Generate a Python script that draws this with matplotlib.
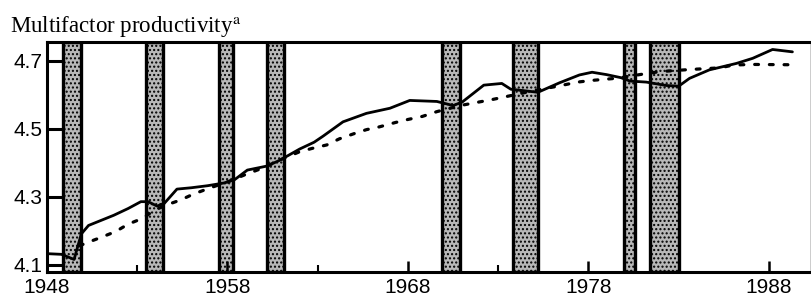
import matplotlib
matplotlib.use("Agg")
import matplotlib.pyplot as plt
import numpy as np

act_year = [1948.0, 1948.8, 1949.5, 1949.9, 1950.3, 1951.0, 1951.7, 1952.5, 1953.2, 1953.6,
            1954.1, 1954.5, 1955.2, 1956.0, 1956.9, 1957.8, 1958.4, 1959.1, 1960.2, 1960.9,
            1962.0, 1962.8, 1963.3, 1964.4, 1965.7, 1967.0, 1968.1, 1969.6, 1970.5, 1971.0,
            1972.2, 1973.2, 1973.7, 1975.2, 1976.4, 1977.5, 1978.2, 1979.0, 1979.8, 1980.3,
            1981.2, 1982.3, 1983.0, 1983.6, 1984.7, 1986.2, 1987.1, 1988.2, 1989.3]
act_val = [4.132, 4.130, 4.115, 4.190, 4.215, 4.230, 4.245, 4.265, 4.285, 4.285,
           4.272, 4.280, 4.322, 4.326, 4.332, 4.340, 4.350, 4.378, 4.390, 4.407,
           4.440, 4.460, 4.478, 4.520, 4.545, 4.560, 4.583, 4.580, 4.568, 4.578,
           4.628, 4.633, 4.616, 4.607, 4.635, 4.658, 4.666, 4.659, 4.650, 4.640,
           4.637, 4.627, 4.625, 4.648, 4.673, 4.692, 4.707, 4.733, 4.726]

# trend line (dotted)
trend_year = [1949.8, 1950.2, 1951.0, 1951.8, 1952.5, 1953.3, 1953.9, 1954.5, 1955.4, 1956.1,
              1957.0, 1958.0, 1959.0, 1960.0, 1961.0, 1962.0, 1962.7, 1963.5, 1964.2, 1965.0,
              1965.7, 1966.4, 1967.3, 1968.0, 1968.8, 1969.6, 1971.0, 1971.9, 1972.7, 1973.5,
              1975.0, 1976.4, 1977.4, 1978.2, 1979.5, 1981.2, 1982.0, 1983.6, 1985.3, 1986.0,
              1987.0, 1989.3]
trend_val = [4.155, 4.164, 4.180, 4.197, 4.219, 4.236, 4.258, 4.273, 4.290, 4.307,
             4.325, 4.343, 4.365, 4.385, 4.410, 4.432, 4.442, 4.452, 4.470, 4.485,
             4.497, 4.505, 4.518, 4.527, 4.536, 4.550, 4.569, 4.578, 4.586, 4.595,
             4.612, 4.626, 4.637, 4.642, 4.648, 4.662, 4.668, 4.674, 4.679, 4.687,
             4.689, 4.688]

# recessions (start, end)
rec_start = [1948.9, 1953.5, 1957.55, 1960.2, 1969.9, 1973.8, 1979.95, 1981.4]
rec_end = [1949.9, 1954.45, 1958.3, 1961.15, 1970.9, 1975.2, 1980.6, 1983.0]

xticks = [1948, 1958, 1968, 1978, 1988]
yticks = [4.1, 4.3, 4.5, 4.7]

plt.rcParams['font.family'] = ['Liberation Sans', 'DejaVu Sans']
plt.rcParams['mathtext.fontset'] = 'stix'
plt.rcParams['hatch.linewidth'] = 1.0

fig = plt.figure(figsize=(8.12, 2.97), dpi=100)
ax = fig.add_axes([47/812, 25/297, 764/812, 230/297])

for s, e in zip(rec_start, rec_end):
    ax.axvspan(s, e, facecolor='#b8b8b8', edgecolor='black', hatch='....',
               linewidth=2.4, zorder=1)

ax.plot(act_year, act_val, color='black', lw=2.0, solid_capstyle='round', zorder=3)
ax.plot(trend_year, trend_val, color='black', lw=2.3,
        linestyle=(0, (1.2, 3.4)), dash_capstyle='round', zorder=3)

ax.set_xlim(1948, 1990.33)
ax.set_ylim(4.078, 4.755)

ax.set_xticks(xticks)
ax.set_xticks(np.arange(1953, 1990, 10), minor=True)
ax.set_yticks(yticks)
ax.set_yticklabels(['4.1', '4.3', '4.5', '4.7'])
ax.tick_params(axis='y', direction='in', length=11, width=2.2, labelsize=15, pad=3)
ax.tick_params(axis='x', direction='in', length=8, width=1.8, labelsize=15, pad=4)
ax.tick_params(axis='x', which='minor', direction='in', length=5, width=1.5)

for side in ['left', 'top', 'bottom']:
    ax.spines[side].set_linewidth(2.2)
ax.spines['right'].set_linewidth(1.0)

fig.text(10/812, 1 - 32/297, r'Multifactor productivity$^{\mathrm{a}}$',
         family='Liberation Serif', fontsize=16.5, va='baseline', ha='left')

fig.savefig('out.png', dpi=100)
